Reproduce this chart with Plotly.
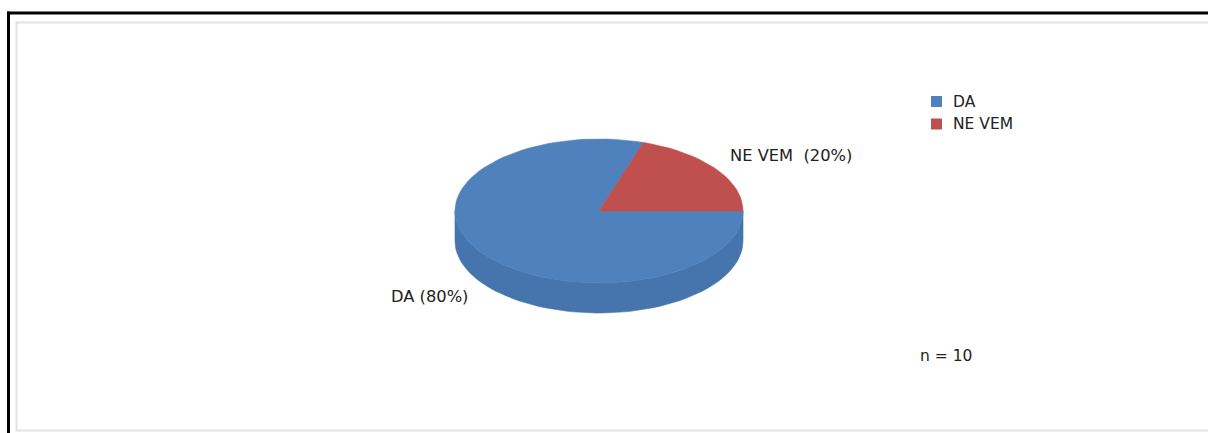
import numpy as np
import plotly.graph_objects as go

# Survey answers
categories = ["DA", "NE VEM"]
counts = [8, 2]
top_colors = ["#4F81BD", "#C0504D"]
side_colors = ["#4674AD", "#A94643"]

W, H = 1208, 433
n_total = sum(counts)

# Pie geometry (pixel space of the hidden axes)
cx, cy = 599, 211
rx, ry = 144, 72
depth = 30
start_angle = 360.0  # degrees; slices run clockwise from 3 o'clock

font_family = "DejaVu Sans, Verdana, sans-serif"
font_size = 15.5
label_size = 16.3
text_color = "#222222"


def arc(t0, t1, yoff=0.0, n=120):
    t = np.radians(np.linspace(t0, t1, max(2, int(n * abs(t1 - t0) / 360) + 2)))
    return cx + rx * np.cos(t), cy + yoff - ry * np.sin(t)


fig = go.Figure()

fractions = [c / n_total for c in counts]
bounds = []
a = start_angle
for f in fractions:
    bounds.append((a - 360 * f, a))
    a -= 360 * f

# Side walls: only the front half (180..360 deg) is visible
for (a0, a1), col in zip(bounds, side_colors):
    for lo, hi in [(-180, 0), (180, 360)]:
        s0, s1 = max(a0, lo), min(a1, hi)
        if s1 <= s0:
            continue
        xt, yt = arc(s0, s1)
        xb, yb = arc(s1, s0, depth)
        fig.add_trace(go.Scatter(
            x=np.concatenate([xt, xb, xt[:1]]), y=np.concatenate([yt, yb, yt[:1]]),
            mode="lines", fill="toself", fillcolor=col,
            line=dict(color=col, width=0.6), hoverinfo="skip", showlegend=False))

# Top faces
for (a0, a1), col in zip(bounds, top_colors):
    xs, ys = arc(a0, a1)
    fig.add_trace(go.Scatter(
        x=np.concatenate([[cx], xs, [cx]]), y=np.concatenate([[cy], ys, [cy]]),
        mode="lines", fill="toself", fillcolor=col,
        line=dict(color=col, width=0.6), hoverinfo="skip", showlegend=False))

annotations = []
# Slice labels placed outside along each slice's mid angle
label_sep = {"DA": " ", "NE VEM": "\u00a0 "}
for (a0, a1), cat, c in zip(bounds, categories, counts):
    mid = np.radians((a0 + a1) / 2)
    lx = cx + rx * 1.11 * np.cos(mid)
    ly = cy - ry * 1.3 * np.sin(mid)
    if np.sin(mid) < 0:
        ly += depth
    txt = f"{cat}{label_sep[cat]}({round(100 * c / n_total)}%)"
    annotations.append(dict(
        x=lx, y=ly, xref="x", yref="y", text=txt, showarrow=False,
        xanchor="left" if np.cos(mid) > 0 else "right", yanchor="middle",
        font=dict(family=font_family, size=label_size, color=text_color)))

# Legend
shapes = []
leg_x, leg_y0, leg_dy = 931, 101.5, 22.5
for i, (cat, col) in enumerate(zip(categories, top_colors)):
    yc = leg_y0 + i * leg_dy
    shapes.append(dict(type="rect", xref="x", yref="y", x0=leg_x, x1=leg_x + 11,
                       y0=yc - 5.5, y1=yc + 5.5, fillcolor=col, line=dict(width=0)))
    annotations.append(dict(
        x=leg_x + 20, y=yc, xref="x", yref="y", text=cat, showarrow=False,
        xanchor="left", yanchor="middle",
        font=dict(family=font_family, size=font_size, color=text_color)))

annotations.append(dict(
    x=918, y=356, xref="x", yref="y", text=f"n = {n_total}", showarrow=False,
    xanchor="left", yanchor="middle",
    font=dict(family=font_family, size=font_size, color=text_color)))

# Outer black frame (top and left) and inner light-gray panel
shapes += [
    dict(type="line", xref="x", yref="y", x0=7, x1=W + 5, y0=13, y1=13,
         line=dict(color="#000000", width=3)),
    dict(type="line", xref="x", yref="y", x0=8.5, x1=8.5, y0=11.5, y1=H + 5,
         line=dict(color="#000000", width=3)),
    dict(type="rect", xref="x", yref="y", x0=16.5, x1=W + 10, y0=22.5, y1=430.5,
         line=dict(color="#E2E2E2", width=2), fillcolor="rgba(0,0,0,0)"),
]

fig.update_layout(
    width=W, height=H, margin=dict(l=0, r=0, t=0, b=0),
    paper_bgcolor="white", plot_bgcolor="white",
    xaxis=dict(range=[0, W], visible=False, fixedrange=True),
    yaxis=dict(range=[H, 0], visible=False, fixedrange=True),
    shapes=shapes, annotations=annotations, showlegend=False,
)

fig.write_html("out.html")
